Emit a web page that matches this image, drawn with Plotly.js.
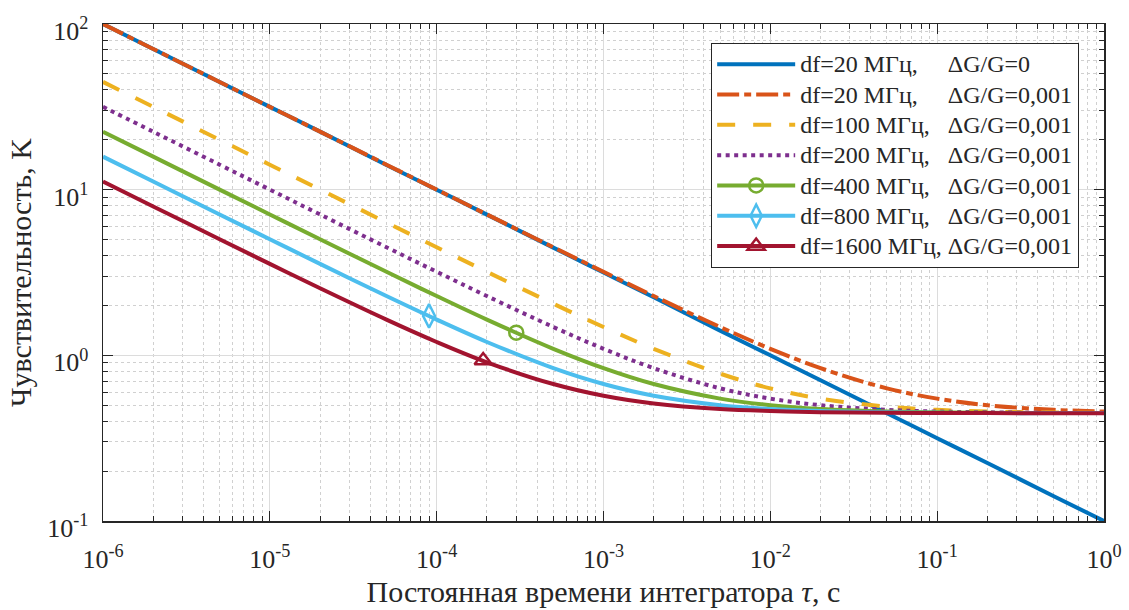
<!DOCTYPE html>
<html>
<head>
<meta charset="utf-8">
<script src="https://cdn.plot.ly/plotly-3.0.1.min.js"></script>
<style>html,body{margin:0;padding:0;background:#fff;}#chart{width:1129px;height:610px;}</style>
</head>
<body>
<div id="chart"></div>
<script>
// integrator time constant, s
var tau = [1e-6,2e-6,5e-6,1e-5,2e-5,5e-5,1e-4,2e-4,5e-4,1e-3,2e-3,5e-3,1e-2,2e-2,5e-2,0.1,0.2,0.5,1];
// sensitivity, K
var s20g0 = [100,70.7,44.7,31.6,22.4,14.1,10,7.07,4.47,3.16,2.24,1.41,1.0,0.707,0.447,0.316,0.224,0.141,0.1];
var s20   = [100,70.7,44.7,31.6,22.4,14.15,10.01,7.085,4.494,3.194,2.28,1.483,1.095,0.837,0.632,0.548,0.5,0.469,0.458];
var s100  = [44.72,31.63,20.0,14.15,10.01,6.34,4.494,3.194,2.049,1.483,1.095,0.775,0.632,0.548,0.49,0.469,0.458,0.452,0.449];
var s200  = [31.63,22.37,14.15,10.01,7.085,4.494,3.194,2.28,1.483,1.095,0.837,0.632,0.548,0.5,0.469,0.458,0.453,0.449,0.448];
var s400  = [22.37,15.82,10.01,7.085,5.02,3.194,2.28,1.643,1.095,0.837,0.671,0.548,0.5,0.474,0.458,0.453,0.45,0.448,0.448];
var s800  = [15.82,11.19,7.085,5.02,3.564,2.28,1.643,1.204,0.837,0.671,0.57,0.5,0.474,0.461,0.453,0.45,0.448,0.448,0.448];
var s1600 = [11.19,7.92,5.02,3.564,2.54,1.643,1.204,0.908,0.671,0.57,0.512,0.474,0.461,0.454,0.45,0.449,0.448,0.447,0.447];
// marker points
var m400 = {x:[3e-4], y:[1.37]};
var m800 = {x:[9e-5], y:[1.73]};
var m1600 = {x:[1.9e-4], y:[0.93]};
// tick labels
var xTickVals = [1e-6,1e-5,1e-4,1e-3,1e-2,1e-1,1];
var xTickText = ['10<sup>-6</sup>','10<sup>-5</sup>','10<sup>-4</sup>','10<sup>-3</sup>','10<sup>-2</sup>','10<sup>-1</sup>','10<sup>0</sup>'];
var yTickVals = [0.1,1,10,100];
var yTickText = ['10<sup>-1</sup>','10<sup>0</sup>','10<sup>1</sup>','10<sup>2</sup>'];

var N = '\u00a0';
var names = [
  'df=20 МГц,' + N+N+N+N+N + 'ΔG/G=0',
  'df=20 МГц,' + N+N+N+N+N + 'ΔG/G=0,001',
  'df=100 МГц,' + N+N+N + 'ΔG/G=0,001',
  'df=200 МГц,' + N+N+N + 'ΔG/G=0,001',
  'df=400 МГц,' + N+N+N + 'ΔG/G=0,001',
  'df=800 МГц,' + N+N+N + 'ΔG/G=0,001',
  'df=1600 МГц,' + N + 'ΔG/G=0,001'
];
var colors = ['#0072BD','#D95319','#EDB120','#7E2F8E','#77AC30','#4DBEEE','#A2142F'];
var LW = 4;
function lbl(s){ return '<span style="font-size:24px">' + s + '</span>'; }
function ln(y, i, dash, show){
  return {x: tau, y: y, type:'scatter', mode:'lines', name: lbl(names[i]), showlegend: show,
    legendgroup: 'g'+i, line:{color: colors[i], width: LW, dash: dash, shape:'spline'}, hoverinfo:'skip'};
}
function mk(m, i, sym, size){
  return {x: m.x, y: m.y, type:'scatter', mode:'lines+markers', name: lbl(names[i]), legendgroup:'g'+i,
    line:{color: colors[i], width: LW},
    marker:{symbol: sym, size: size, color: colors[i], line:{color: colors[i], width: 2.5}}, hoverinfo:'skip'};
}
var data = [
  ln(s20g0, 0, 'solid', true),
  ln(s20, 1, '22px,5px,7px,5px', true),
  ln(s100, 2, '18px,18px', true),
  ln(s200, 3, '4px,4.5px', true),
  ln(s400, 4, 'solid', false), mk(m400, 4, 'circle-open', 14),
  ln(s800, 5, 'solid', false), mk(m800, 5, 'diamond-tall-open', 17),
  ln(s1600, 6, 'solid', false), mk(m1600, 6, 'triangle-up-open', 15)
];

var serif = '"Liberation Serif", "Times New Roman", serif';
function axBase(){ return {
  type:'log', tickmode:'array',
  showline:true, linecolor:'#262626', linewidth:1.5, mirror:'allticks',
  ticks:'inside', ticklen:10, tickwidth:1.2, tickcolor:'#262626',
  showgrid:true, gridcolor:'#dcdcdc', gridwidth:1,
  zeroline:false,
  tickfont:{family: serif, size:26, color:'#262626'},
  minor:{tickmode:'linear', dtick:'D1', ticks:'inside', ticklen:5, tickwidth:1, tickcolor:'#262626',
         showgrid:true, gridcolor:'#d0d0d0', griddash:'dot', gridwidth:1}
};}
var xaxis = Object.assign(axBase(), {
  range:[-6,0], tickvals: xTickVals, ticktext: xTickText, ticklabelstandoff:14,
  title:{text:'Постоянная времени интегратора <i>τ</i>, с', font:{family: serif, size:30, color:'#262626'}, standoff:8}
});
var yaxis = Object.assign(axBase(), {
  range:[-1,2], tickvals: yTickVals, ticktext: yTickText, ticklabelstandoff:8, ticklabelshift:7,
  title:{text:'Чувствительность, K', font:{family: serif, size:30, color:'#262626'}, standoff:6}
});
var layout = {
  width:1129, height:610,
  margin:{l:103, r:25, t:24, b:89},
  paper_bgcolor:'#fff', plot_bgcolor:'#fff',
  xaxis: xaxis, yaxis: yaxis,
  showlegend:true,
  legend:{x:0.975, y:0.962, xanchor:'right', yanchor:'top', bgcolor:'#fff',
    bordercolor:'#262626', borderwidth:1.2, itemwidth:78,
    font:{family: serif, size:21, color:'#262626'}, tracegroupgap:0}
};
Plotly.newPlot('chart', data, layout, {staticPlot:true});
</script>
</body>
</html>
